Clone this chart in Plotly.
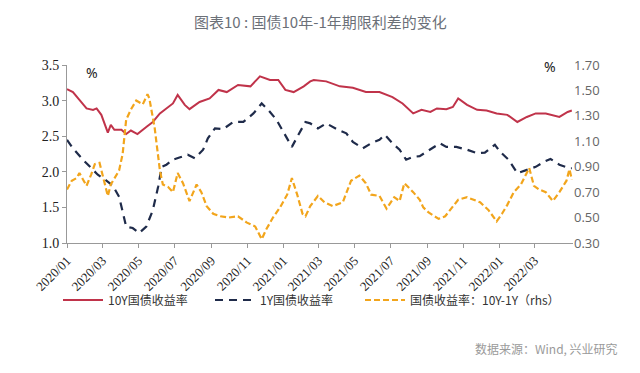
import plotly.graph_objects as go

# ---- data ----
y10_dates = ["2020-01-01","2020-01-11","2020-01-22","2020-02-03","2020-02-14","2020-02-20","2020-02-28",
    "2020-03-10","2020-03-15","2020-03-21","2020-04-02","2020-04-10","2020-04-18","2020-04-29","2020-05-14",
    "2020-05-25","2020-06-06","2020-06-17","2020-06-28","2020-07-06","2020-07-18","2020-07-26","2020-08-12",
    "2020-08-29","2020-09-13","2020-09-27","2020-10-16","2020-11-06","2020-11-22","2020-12-09","2020-12-23",
    "2021-01-04","2021-01-18","2021-02-04","2021-02-15","2021-02-21","2021-03-14","2021-04-06","2021-04-28",
    "2021-05-20","2021-06-12","2021-07-04","2021-07-21","2021-08-08","2021-08-22","2021-09-06","2021-09-17",
    "2021-10-03","2021-10-14","2021-10-23","2021-11-07","2021-11-24","2021-12-10","2021-12-27","2022-01-14",
    "2022-01-31","2022-02-16","2022-03-03","2022-03-20","2022-04-12","2022-04-26","2022-05-03"]
y10_vals = [3.16,3.12,3.01,2.89,2.87,2.89,2.80,
    2.55,2.66,2.59,2.59,2.53,2.58,2.53,2.63,
    2.70,2.82,2.89,2.96,3.08,2.94,2.88,2.98,
    3.03,3.15,3.12,3.22,3.20,3.34,3.29,3.29,
    3.15,3.12,3.20,3.27,3.29,3.27,3.20,3.18,
    3.12,3.12,3.05,2.96,2.82,2.87,2.84,2.89,
    2.88,2.91,3.03,2.94,2.87,2.86,2.82,2.80,
    2.70,2.77,2.82,2.82,2.77,2.84,2.86]

y1_dates = ["2020-01-01","2020-01-11","2020-01-28","2020-02-11","2020-02-22","2020-03-07","2020-03-18",
    "2020-03-29","2020-04-07","2020-04-10","2020-04-21","2020-05-02","2020-05-14","2020-05-25","2020-06-03",
    "2020-06-09","2020-06-17","2020-06-28","2020-07-09","2020-07-23","2020-08-04","2020-08-18","2020-08-26",
    "2020-09-07","2020-09-21","2020-10-08","2020-10-25","2020-11-11","2020-11-25","2020-12-06","2020-12-20",
    "2021-01-01","2021-01-15","2021-01-26","2021-02-07","2021-02-15","2021-02-28","2021-03-14","2021-04-03",
    "2021-04-17","2021-04-28","2021-05-15","2021-05-29","2021-06-12","2021-06-21","2021-07-04","2021-07-16",
    "2021-07-27","2021-08-08","2021-08-19","2021-09-03","2021-09-22","2021-10-03","2021-10-20","2021-11-07",
    "2021-11-24","2021-12-07","2021-12-24","2022-01-02","2022-01-16","2022-01-31","2022-02-16","2022-03-03",
    "2022-03-17","2022-03-28","2022-04-12","2022-04-29","2022-05-03"]
y1_vals = [2.45,2.33,2.17,2.05,1.96,1.88,1.81,
    1.65,1.30,1.23,1.21,1.14,1.23,1.46,1.79,
    2.07,2.10,2.17,2.20,2.24,2.19,2.31,2.47,
    2.61,2.60,2.70,2.70,2.82,2.96,2.87,2.73,
    2.56,2.35,2.52,2.70,2.68,2.61,2.68,2.59,
    2.54,2.42,2.33,2.40,2.45,2.52,2.40,2.31,
    2.17,2.21,2.22,2.30,2.40,2.35,2.35,2.31,
    2.26,2.27,2.38,2.28,2.17,1.98,2.03,2.07,
    2.14,2.18,2.10,2.05,2.05]

sp_dates = ["2020-01-01","2020-01-09","2020-01-17","2020-01-22","2020-01-28","2020-02-03","2020-02-11",
    "2020-02-17","2020-02-25","2020-03-01","2020-03-07","2020-03-10","2020-03-15","2020-03-21","2020-03-29",
    "2020-04-04","2020-04-10","2020-04-18","2020-04-27","2020-05-08","2020-05-16","2020-05-19","2020-05-28",
    "2020-06-06","2020-06-11","2020-06-20","2020-06-28","2020-07-06","2020-07-15","2020-07-26","2020-08-07",
    "2020-08-15","2020-08-24","2020-09-04","2020-09-16","2020-09-30","2020-10-16","2020-10-31","2020-11-14",
    "2020-11-25","2020-12-03","2020-12-14","2020-12-26","2021-01-07","2021-01-15","2021-01-24","2021-02-02",
    "2021-02-07","2021-02-15","2021-02-28","2021-03-11","2021-03-25","2021-04-11","2021-04-25","2021-05-09",
    "2021-05-20","2021-05-29","2021-06-12","2021-06-24","2021-07-07","2021-07-16","2021-07-24","2021-08-08",
    "2021-08-19","2021-08-25","2021-09-03","2021-09-20","2021-10-01","2021-10-12","2021-10-23","2021-11-07",
    "2021-11-18","2021-11-29","2021-12-13","2021-12-27","2022-01-05","2022-01-14","2022-01-25","2022-02-06",
    "2022-02-20","2022-02-28","2022-03-09","2022-03-20","2022-04-01","2022-04-12","2022-04-24","2022-04-29",
    "2022-05-03"]
sp_vals = [0.72,0.79,0.81,0.85,0.80,0.75,0.84,
    0.92,0.93,0.84,0.74,0.67,0.76,0.81,0.87,
    1.00,1.27,1.35,1.42,1.39,1.47,1.44,1.21,
    0.87,0.76,0.74,0.70,0.85,0.77,0.63,0.76,
    0.70,0.59,0.53,0.51,0.50,0.51,0.46,0.43,
    0.33,0.41,0.50,0.58,0.68,0.81,0.68,0.53,
    0.51,0.59,0.67,0.62,0.59,0.62,0.79,0.83,
    0.77,0.68,0.67,0.57,0.66,0.63,0.77,0.70,
    0.64,0.58,0.54,0.49,0.51,0.58,0.64,0.66,
    0.64,0.62,0.56,0.47,0.53,0.60,0.70,0.76,
    0.89,0.75,0.72,0.70,0.63,0.70,0.79,0.88,
    0.80]

tick_dates = ["2020-01-01","2020-03-01","2020-05-01","2020-07-01","2020-09-01","2020-11-01","2021-01-01",
    "2021-03-01","2021-05-01","2021-07-01","2021-09-01","2021-11-01","2022-01-01","2022-03-01"]
tick_labels = ["2020/01","2020/03","2020/05","2020/07","2020/09","2020/11","2021/01",
    "2021/03","2021/05","2021/07","2021/09","2021/11","2022/01","2022/03"]

names = ["10Y国债收益率", "1Y国债收益率", "国债收益率：10Y-1Y（rhs）"]
title_text = "图表10 : 国债10年-1年期限利差的变化"
source_text = "数据来源：Wind, 兴业研究"

RED = "#C0334A"
NAVY = "#1F2B4A"
GOLD = "#F2A51C"

fig = go.Figure()
fig.add_trace(go.Scatter(x=y10_dates, y=y10_vals, name=names[0], mode="lines", legend="legend",
                         line=dict(color=RED, width=2)))
fig.add_trace(go.Scatter(x=y1_dates, y=y1_vals, name=names[1], mode="lines", legend="legend2",
                         line=dict(color=NAVY, width=2.2, dash="8px,6px")))
fig.add_trace(go.Scatter(x=sp_dates, y=sp_vals, name=names[2], mode="lines", yaxis="y2", legend="legend3",
                         line=dict(color=GOLD, width=2.2, dash="6px,3px")))

serif = "Liberation Serif"
PL, PR, PT, PB = 67, 573, 65, 243
PW, PH = PR - PL, PB - PT
leg_font = dict(family="Noto Sans CJK SC", size=12, color="#333333")
leg_y = -(300 - PB) / PH


def leg(px):
    return dict(orientation="h", x=(px - 5 - PL) / PW, xanchor="left", y=leg_y, yanchor="middle",
                font=leg_font, itemwidth=40, bgcolor="rgba(0,0,0,0)")


fig.update_layout(
    width=640, height=373,
    margin=dict(l=PL, r=640 - PR, t=PT, b=373 - PB, autoexpand=False),
    paper_bgcolor="white", plot_bgcolor="white",
    showlegend=True,
    legend=leg(63), legend2=leg(215), legend3=leg(365),
    xaxis=dict(type="date", range=["2020-01-01", "2022-05-05"],
               tickvals=tick_dates, ticktext=tick_labels, tickangle=-45,
               tickfont=dict(family=serif, size=13, color="#222222"),
               showline=True, linecolor="#999999", linewidth=1,
               ticks="outside", ticklen=4, tickcolor="#999999",
               showgrid=False, zeroline=False),
    yaxis=dict(range=[1.0, 3.5], dtick=0.5, tick0=1.0, tickformat=".1f",
               tickfont=dict(family=serif, size=14, color="#222222"),
               showline=True, linecolor="#999999", linewidth=1,
               ticks="outside", ticklen=4, tickcolor="#999999",
               showgrid=False, zeroline=False),
    yaxis2=dict(range=[0.30, 1.70], dtick=0.2, tick0=0.3, tickformat=".2f", overlaying="y", side="right",
                tickfont=dict(family="Open Sans", size=13, color="#666666"),
                showline=False, ticks="", showgrid=False, zeroline=False),
    annotations=[
        dict(text=title_text, xref="paper", yref="paper", x=0.5, y=1 + (PT - 22) / PH, yanchor="middle",
             showarrow=False, font=dict(family="Noto Sans CJK SC", size=15, color="#6b7078")),
        dict(text="%", xref="paper", yref="paper", x=(92 - PL) / PW, xanchor="center",
             y=1 - (72 - PT) / PH, yanchor="middle",
             showarrow=False, font=dict(family="Noto Sans", size=14, color="#222222")),
        dict(text="%", xref="paper", yref="paper", x=(550 - PL) / PW, xanchor="center",
             y=1 - (66 - PT) / PH, yanchor="middle",
             showarrow=False, font=dict(family="Noto Sans", size=14, color="#222222")),
        dict(text=source_text, xref="paper", yref="paper", x=(620 - PL) / PW, xanchor="right",
             y=-(348 - PB) / PH, yanchor="middle", showarrow=False,
             font=dict(family="Noto Sans CJK SC", size=12, color="#9a9a9a")),
    ],
)

fig.write_html("out.html", post_script="document.body.style.margin='0';",
               config={"displayModeBar": False})
